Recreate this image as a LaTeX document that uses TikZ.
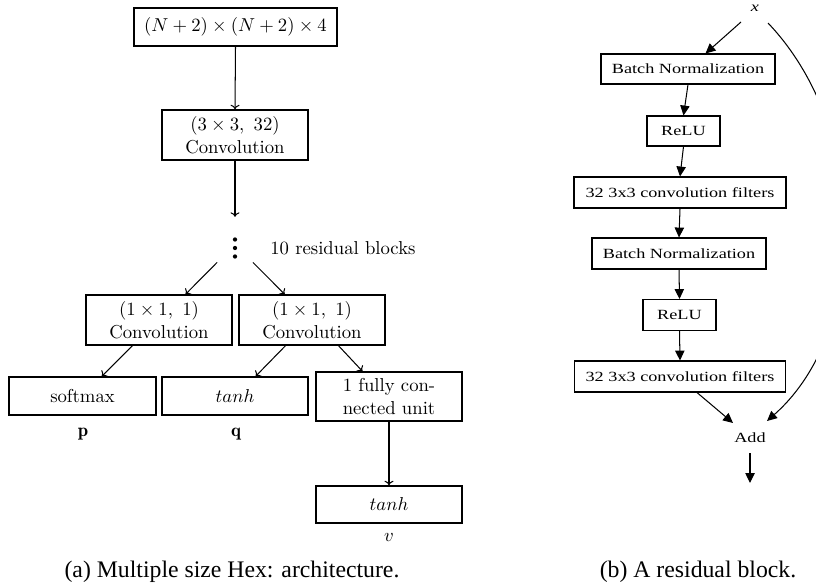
\documentclass[tikz,border=0pt]{standalone}
\usepackage{fontspec}
\usepackage{graphicx}
\newfontfamily\tms{Liberation Serif}
\usetikzlibrary{arrows.meta,calc}
\newcommand{\wid}[1]{\scalebox{1.3}[1]{#1}}
\tikzset{
  lbox/.style 2 args={draw, line width=0.8pt, inner sep=0pt, align=center,
    minimum width=#1*0.535pt, minimum height=#2*0.535pt,
    font=\fontsize{10}{12}\selectfont},
  ltext/.style={inner sep=0pt, font=\fontsize{10}{12}\selectfont},
  larrow/.style={line width=0.55pt, -{To[length=2.4pt,width=4.8pt]}},
  rbox/.style 2 args={draw, line width=0.55pt, inner sep=0pt,
    minimum width=#1*0.535pt, minimum height=#2*0.535pt,
    font=\tms\fontsize{7.5}{9}\selectfont},
  rtext/.style={inner sep=0pt, font=\tms\fontsize{7.5}{9}\selectfont},
  rarrow/.style={line width=0.55pt, -{Triangle[length=5.3pt,width=5pt]}},
  captext/.style={inner sep=0pt, font=\tms\fontsize{12.7}{15}\selectfont},
  dotmark/.style={fill=black}
}
\begin{document}
\begin{tikzpicture}[x=0.535pt, y=-0.535pt]
\fill[white] (0,0) rectangle (816,586);
\useasboundingbox (0,0) rectangle (816,586);

% ---- (a) architecture ----
\node[lbox={203}{38}] (top) at (235.5,27) {$(N+2)\times(N+2)\times 4$};
\node[lbox={146}{50}] (c3) at (235,135) {$(3\times 3,\ 32)$\\Convolution};
\node[inner sep=0pt, minimum width=35*0.535pt, minimum height=28*0.535pt] (dots) at (235,248) {};
\fill[dotmark] ($(dots)+(0,-8.5)$) circle[radius=1.15pt];
\fill[dotmark] (dots) circle[radius=1.15pt];
\fill[dotmark] ($(dots)+(0,8.5)$) circle[radius=1.15pt];
\node[ltext, anchor=west] (res) at (270,248) {10 residual blocks};
\node[lbox={146}{50}] (cl) at (159,320) {$(1\times 1,\ 1)$\\Convolution};
\node[lbox={146}{50}] (cr) at (312,320) {$(1\times 1,\ 1)$\\Convolution};
\node[lbox={147}{38}] (sm) at (82.5,396) {softmax};
\node[lbox={146}{38}] (th) at (235,396) {$tanh$};
\node[lbox={146}{49}] (fc) at (389,396.5) {1 fully con-\\nected unit};
\node[lbox={146}{37}] (tv) at (389,504.5) {$tanh$};
\node[ltext] (p) at (83,434) {$\mathbf{p}$};
\node[ltext] (q) at (236,434) {$\mathbf{q}$};
\node[ltext] (v) at (389,537) {$v$};
\node[captext] (capa) at (232,572) {(a) Multiple size Hex: architecture.};

\draw[larrow] (top.south) -- (c3.north);
\draw[larrow, shorten >=9pt] (c3.south) -- (dots.north);
\draw[larrow] (dots.south west) -- ($(cl.north west)!0.68!(cl.north east)$);
\draw[larrow] (dots.south east) -- ($(cr.north west)!0.315!(cr.north east)$);
\draw[larrow] ($(cl.south west)!0.32!(cl.south east)$) -- ($(sm.north west)!0.63!(sm.north east)$);
\draw[larrow] ($(cr.south west)!0.32!(cr.south east)$) -- ($(th.north west)!0.64!(th.north east)$);
\draw[larrow] ($(cr.south west)!0.68!(cr.south east)$) -- ($(fc.north west)!0.32!(fc.north east)$);
\draw[larrow] (fc.south) -- (tv.north);

% ---- (b) residual block ----
\node[rtext] (x) at (755,8) {\wid{\itshape x}};
\node[rbox={174}{30}] (bn1) at (688,69) {\wid{Batch Normalization}};
\node[rbox={73}{30}] (relu1) at (683.5,131) {\wid{ReLU}};
\node[rbox={212}{31}] (cv1) at (680,192.5) {\wid{32 3x3 convolution filters}};
\node[rbox={174}{31}] (bn2) at (679,253.5) {\wid{Batch Normalization}};
\node[rbox={73}{31}] (relu2) at (679.5,315) {\wid{ReLU}};
\node[rbox={211}{31}] (cv2) at (680,376.5) {\wid{32 3x3 convolution filters}};
\node[rtext] (add) at (750,438) {\wid{Add}};
\coordinate (out) at (750,483);
\node[captext] (capb) at (698,572) {(b) A residual block.};

\draw[rarrow] ($(x)+(-14,14)$) -- ($(bn1.north west)!0.6!(bn1.north east)$);
\draw[rarrow] (bn1.south) -- (relu1.north);
\draw[rarrow] (relu1.south) -- (cv1.north);
\draw[rarrow] (cv1.south) -- (bn2.north);
\draw[rarrow] (bn2.south) -- (relu2.north);
\draw[rarrow] (relu2.south) -- (cv2.north);
\draw[rarrow] ($(cv2.south west)!0.58!(cv2.south east)$) -- ($(add)+(-17,-15)$);
\draw[rarrow] ($(x)+(13,15)$) .. controls (870,130) and (870,330) .. ($(add)+(17,-17)$);
\draw[rarrow] ($(add)+(0,15)$) -- (out);
\end{tikzpicture}
\end{document}
